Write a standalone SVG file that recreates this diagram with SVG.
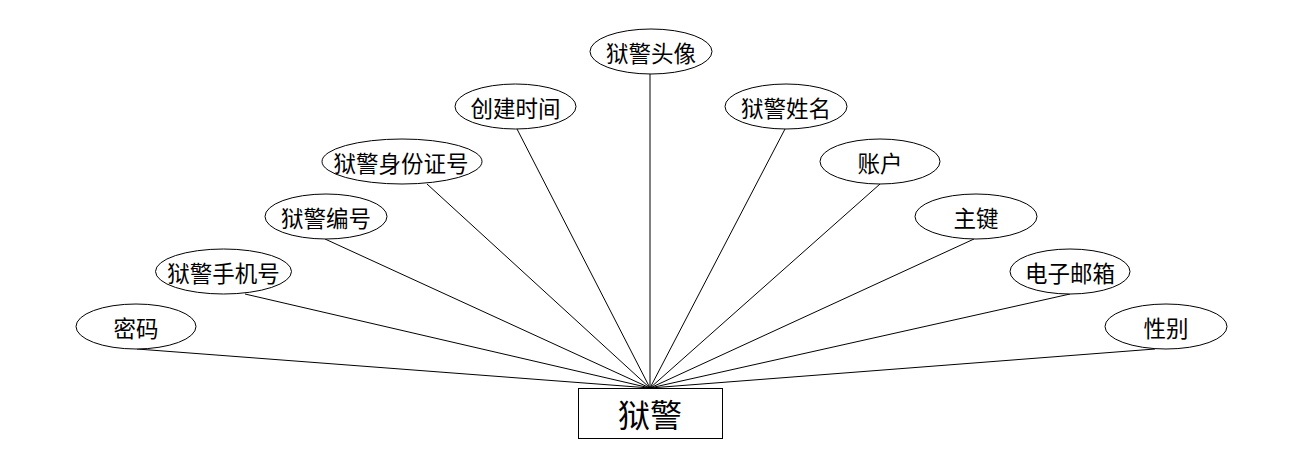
<svg xmlns="http://www.w3.org/2000/svg" width="1300" height="468" viewBox="0 0 1300 468">
<style>
.e{fill:#fff;stroke:#000;stroke-width:1}
.t{font-family:"Noto Sans CJK SC","Noto Sans",sans-serif;font-size:22.5px;fill:#000;text-anchor:middle;dominant-baseline:central}
.c line{stroke:#000;stroke-width:1}
</style>
<rect width="1300" height="468" fill="#fff"/>
<g class="c" id="connectors">
<line x1="137" y1="349" x2="650" y2="388"/>
<line x1="245" y1="294" x2="650" y2="388"/>
<line x1="325" y1="239" x2="650" y2="388"/>
<line x1="427" y1="184" x2="650" y2="388"/>
<line x1="517" y1="129" x2="650" y2="388"/>
<line x1="650" y1="74" x2="650" y2="388"/>
<line x1="785" y1="129" x2="650" y2="388"/>
<line x1="880" y1="184" x2="650" y2="388"/>
<line x1="974" y1="239" x2="650" y2="388"/>
<line x1="1070" y1="294" x2="650" y2="388"/>
<line x1="1155" y1="349" x2="650" y2="388"/>
</g>
<g id="n-mima"><ellipse class="e" cx="136" cy="326.5" rx="60" ry="22.5"/><text class="t" x="136" y="326.5">密码</text></g>
<g id="n-shouji"><ellipse class="e" cx="223.5" cy="271.5" rx="68" ry="22.5"/><text class="t" x="223.5" y="271.5">狱警手机号</text></g>
<g id="n-bianhao"><ellipse class="e" cx="326" cy="216.5" rx="61" ry="22.5"/><text class="t" x="326" y="216.5">狱警编号</text></g>
<g id="n-sfz"><ellipse class="e" cx="402" cy="161.5" rx="80" ry="22.5"/><text class="t" x="401" y="161.5">狱警身份证号</text></g>
<g id="n-cjsj"><ellipse class="e" cx="515.5" cy="106.5" rx="60.5" ry="22.5"/><text class="t" x="515.5" y="106.5">创建时间</text></g>
<g id="n-tx"><ellipse class="e" cx="651" cy="51.5" rx="61" ry="22.5"/><text class="t" x="651" y="51.5">狱警头像</text></g>
<g id="n-xm"><ellipse class="e" cx="786" cy="106.5" rx="61" ry="22.5"/><text class="t" x="786" y="106.5">狱警姓名</text></g>
<g id="n-zh"><ellipse class="e" cx="880" cy="161.5" rx="60" ry="22.5"/><text class="t" x="880" y="161.5">账户</text></g>
<g id="n-zj"><ellipse class="e" cx="976" cy="216.5" rx="61" ry="22.5"/><text class="t" x="976" y="216.5">主键</text></g>
<g id="n-yx"><ellipse class="e" cx="1070" cy="271.5" rx="60" ry="22.5"/><text class="t" x="1070" y="271.5">电子邮箱</text></g>
<g id="n-xb"><ellipse class="e" cx="1166" cy="326.5" rx="61" ry="22.5"/><text class="t" x="1166" y="326.5">性别</text></g>
<g id="n-yj"><rect x="578.5" y="388.5" width="144" height="50" fill="#fff" stroke="#000"/><text class="t" x="650" y="413" style="font-size:32px">狱警</text></g>
</svg>
